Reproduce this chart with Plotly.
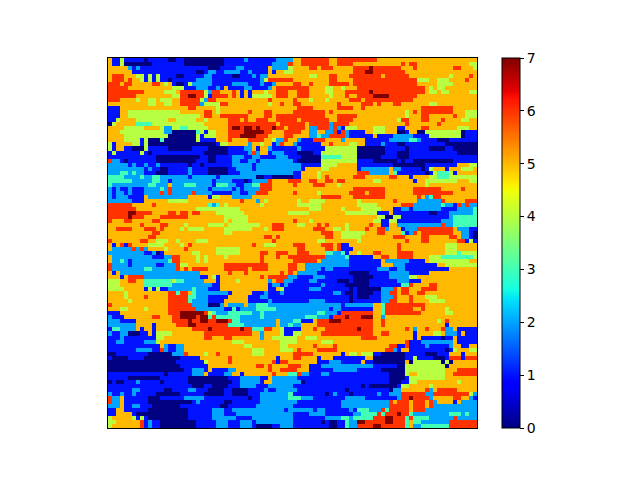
import numpy as np
import plotly.graph_objects as go

N = 92
# each token is value:column-where-the-run-ends
grid_rows = """
5:1 1:3 4:4 1:9 0:10 1:15 0:17 1:19 0:29 1:34 2:35 1:42 2:46 5:48 6:55 5:57 6:67 5:92
5:1 1:3 4:4 0:11 1:19 0:29 1:41 2:45 6:46 5:48 6:55 5:57 6:61 5:73 6:74 5:75 6:77 5:90 4:92
5:5 2:6 1:7 2:8 1:25 0:28 1:32 2:34 1:40 5:41 2:45 4:46 5:50 6:52 5:53 6:56 5:61 6:65 7:66 6:73 5:76 6:77 5:86 6:88 5:91 4:92
5:6 1:22 0:24 1:25 2:27 1:29 2:33 1:35 2:36 1:40 5:41 1:42 5:44 4:46 5:61 6:64 7:66 6:74 5:92
5:1 6:4 5:7 4:9 1:10 4:11 1:12 4:13 1:17 0:19 1:24 2:26 1:31 0:33 1:36 2:37 1:38 2:40 5:50 4:52 5:55 6:57 5:60 6:68 5:69 6:75 5:85 4:86 5:90 6:91 5:92
5:1 6:4 5:5 6:6 5:8 4:9 1:10 4:11 1:12 4:13 1:15 0:16 1:22 2:26 1:38 2:39 4:40 6:46 5:55 6:57 5:61 6:77 4:80 5:82 4:85 5:89 6:90 5:92
6:3 5:4 6:6 5:11 6:13 5:14 4:15 5:16 1:17 0:19 1:20 4:21 2:26 1:31 2:35 1:38 2:39 1:41 2:42 5:46 6:48 5:50 6:51 5:55 6:60 5:61 6:77 5:82 4:86 5:92
6:5 5:16 4:19 1:22 2:25 1:27 2:28 1:29 5:30 1:34 2:36 1:40 2:41 5:42 6:50 5:54 4:56 5:58 4:59 5:62 6:79 5:80 4:81 5:82 4:84 5:92
6:9 5:14 4:17 5:18 6:24 4:25 2:26 6:28 5:31 6:32 5:33 1:34 5:35 1:36 5:39 4:40 5:42 6:45 5:47 6:50 5:54 4:56 5:59 6:65 7:66 6:79 5:80 4:82 5:83 4:85 5:90 4:92
6:7 5:16 4:18 6:20 7:22 6:24 4:25 1:26 6:30 5:31 6:32 5:33 1:34 5:35 1:36 4:41 5:42 6:45 5:47 6:50 5:55 4:56 5:59 6:60 5:62 6:66 7:70 6:77 5:92
6:3 5:7 4:8 5:10 4:12 5:13 4:16 5:18 6:23 4:24 2:25 6:27 5:40 6:41 5:46 6:47 5:50 4:51 5:54 4:55 5:60 6:63 5:64 6:76 5:92
5:10 4:12 5:14 4:16 5:18 6:23 2:24 4:28 6:30 5:40 4:41 5:43 6:44 5:46 6:48 5:57 6:58 5:63 6:66 5:67 6:68 5:71 6:73 5:80 4:82 5:92
1:3 5:20 6:22 5:27 4:28 5:47 6:51 5:57 6:61 5:63 6:64 5:78 6:86 5:92
1:3 5:5 4:18 5:24 6:26 5:27 4:28 5:35 6:36 5:39 6:41 5:46 6:54 5:55 6:56 5:74 4:75 5:76 6:77 5:78 6:86 5:89 4:92
1:3 5:5 4:23 5:24 6:26 5:28 6:35 5:39 6:41 5:42 6:54 5:57 6:62 5:74 4:75 5:78 6:80 5:86 6:87 5:89 4:92
1:2 4:3 5:7 4:15 5:17 4:22 5:24 4:25 5:30 6:33 5:34 6:35 5:37 6:40 5:42 6:47 5:48 6:55 5:57 6:61 5:72 4:73 6:75 5:78 6:80 5:83 6:84 5:88 4:90 5:92
0:1 4:2 5:7 3:11 4:24 5:30 6:42 5:43 6:49 5:50 6:55 2:56 6:60 5:74 6:75 5:82 6:83 5:92
5:4 4:9 5:13 4:14 2:16 4:18 3:20 4:25 5:30 6:31 7:33 6:34 7:36 6:37 7:38 6:41 7:42 6:44 5:45 6:49 5:50 2:52 6:55 2:56 6:57 2:58 1:59 4:62 5:66 4:69 5:72 1:74 5:78 6:80 5:87 4:90 5:92
5:3 4:14 2:16 0:22 3:23 4:24 1:25 4:27 5:30 6:34 7:39 6:41 5:44 6:48 5:50 2:52 5:54 2:56 6:57 1:58 6:59 2:60 1:64 5:66 4:69 5:72 0:74 1:75 5:77 0:79 4:88 0:89 1:92
5:4 4:15 0:22 4:23 1:24 4:27 5:30 6:33 7:37 6:40 5:44 6:46 5:50 2:52 3:53 2:55 6:59 2:60 1:66 5:67 1:71 2:76 1:80 4:88 0:89 1:92
5:4 4:8 1:9 4:10 0:13 3:14 0:22 4:23 1:27 5:30 6:31 5:35 6:39 5:41 4:42 2:44 6:45 5:47 2:48 1:51 6:54 5:58 2:59 5:64 1:70 2:75 3:77 2:78 1:82 0:85 1:92
4:1 1:2 5:6 4:8 1:9 4:10 0:27 1:28 4:30 5:35 2:36 5:38 4:39 5:41 1:42 2:43 6:44 5:46 2:47 1:53 5:55 6:56 5:60 4:62 5:64 1:68 2:69 1:72 0:74 1:84 0:92
4:1 1:2 5:4 1:6 0:9 4:10 1:15 0:21 1:25 0:30 1:34 2:36 5:37 1:38 5:40 2:41 1:47 2:48 1:54 4:62 0:69 1:74 0:75 1:80 0:84 1:86 0:92
1:1 4:2 1:8 4:9 1:10 0:11 1:24 0:30 1:35 2:36 6:37 2:38 5:40 1:41 2:44 1:47 0:51 1:53 4:62 0:69 1:72 0:75 1:87 0:92
1:12 0:23 1:25 0:27 1:31 2:34 1:36 2:38 1:42 2:45 1:48 0:53 3:58 4:62 0:68 1:72 0:75 1:92
6:1 2:3 1:4 0:5 1:12 0:22 1:25 0:27 1:31 2:33 1:35 2:37 1:38 2:46 1:47 0:53 4:62 1:66 0:72 1:73 0:74 1:76 0:86 1:92
2:5 1:6 2:7 1:9 2:10 1:12 2:13 1:20 0:21 1:23 0:24 1:31 2:36 1:37 2:48 1:53 4:57 5:62 1:71 0:79 1:87 5:90 4:92
2:9 1:10 2:11 1:13 0:15 1:20 2:21 1:25 0:30 1:32 2:36 1:37 2:48 1:49 5:53 4:55 5:62 1:63 2:70 5:71 2:73 1:78 0:79 1:80 4:81 5:84 1:85 5:88 4:91 5:92
2:3 3:5 2:6 3:7 2:9 1:12 0:15 1:20 2:21 1:25 0:30 1:33 2:46 1:48 5:52 4:53 5:62 6:65 2:70 5:71 3:72 1:79 0:80 1:81 4:82 3:85 4:86 1:87 5:92
3:4 2:8 3:9 2:11 3:13 2:20 1:21 2:27 1:28 2:37 0:39 1:41 0:46 1:48 5:52 4:53 5:54 6:55 5:61 6:64 5:70 6:72 5:75 1:76 5:80 4:82 3:85 4:92
3:6 2:11 3:13 2:15 1:16 2:26 1:27 2:31 1:34 0:35 1:36 2:40 6:41 5:45 6:48 5:50 6:52 5:54 6:56 5:57 6:59 5:66 4:68 5:76 1:77 5:79 4:87 5:90 4:92
3:1 2:10 3:12 2:15 5:16 2:19 3:22 2:26 1:27 3:30 2:32 1:34 2:36 3:38 6:41 5:46 6:47 5:51 6:54 5:57 4:58 5:79 4:80 5:92
2:1 1:2 2:3 1:5 2:6 1:9 2:13 3:14 2:15 6:16 2:25 1:26 2:31 1:32 2:33 1:34 2:38 6:41 5:61 6:69 5:76 6:83 5:88 6:89 5:92
2:1 1:2 2:4 1:5 2:6 1:9 2:13 6:14 2:15 6:16 2:21 6:22 2:26 1:31 2:33 1:35 2:37 6:40 5:46 6:47 5:52 4:53 5:60 6:64 5:65 6:69 5:76 6:86 5:92
2:1 1:2 2:5 1:9 5:10 2:20 5:25 1:26 4:28 5:31 2:36 5:53 6:58 5:61 6:69 5:77 6:78 5:79 2:80 3:81 6:83 5:92
2:6 1:9 5:15 4:20 5:33 6:34 5:37 2:38 5:39 4:40 5:47 4:48 5:50 4:54 5:62 4:63 5:71 6:72 5:77 2:83 6:84 5:89 6:92
6:6 5:11 6:12 5:25 3:26 2:27 3:28 5:29 4:30 5:38 4:39 5:47 4:53 5:62 4:67 5:73 6:76 2:83 3:84 2:86 1:87 6:88 2:89 6:90 2:92
6:7 5:22 4:33 5:46 5:50 4:53 5:58 4:59 5:63 4:68 5:71 1:73 2:75 1:76 2:83 1:87 2:91 3:92
6:5 7:7 6:11 5:15 6:17 5:18 6:20 5:21 6:23 5:27 4:34 5:45 4:50 5:59 4:67 1:70 5:71 1:80 0:82 1:85 2:91 3:92
6:5 7:6 6:9 5:13 6:20 5:29 4:35 5:67 4:69 0:71 4:73 1:85 2:86 3:92
6:1 5:4 6:6 5:11 6:13 5:29 4:30 5:31 4:35 5:46 6:47 5:50 4:51 5:66 4:68 1:70 4:72 1:83 2:86 3:92
5:8 6:9 5:13 6:15 5:19 4:20 5:25 4:29 5:30 4:38 5:41 6:44 5:47 4:49 5:52 6:53 5:54 6:55 5:59 4:60 5:65 6:66 5:68 1:70 5:72 2:83 6:84 2:86 3:92
5:2 6:6 5:9 6:12 5:13 6:14 5:18 4:19 5:20 4:24 5:29 4:36 5:39 4:40 5:41 6:44 5:51 6:54 5:56 4:58 5:59 4:60 5:64 6:65 5:67 6:69 2:70 5:73 1:74 2:77 6:86 5:87 2:90 1:92
5:11 6:13 5:29 4:31 5:53 6:56 5:58 4:64 5:67 6:69 5:73 3:74 1:75 2:76 6:77 5:78 6:86 5:88 2:90 1:91 0:92
5:10 6:12 5:39 6:41 5:42 6:43 5:54 6:56 5:58 4:63 5:71 6:74 5:78 6:80 5:85 6:87 5:88 2:90 1:91 0:92
6:1 5:8 6:10 5:12 4:15 5:17 4:18 5:22 4:25 5:41 6:42 5:52 4:54 5:62 4:63 5:74 6:75 5:78 6:80 5:87 6:89 1:90 4:91 1:92
5:1 1:2 5:3 6:4 1:5 6:6 5:10 4:14 5:18 4:19 5:20 6:21 5:36 6:37 5:39 4:42 5:46 6:49 5:53 6:56 5:57 6:58 1:60 5:72 6:73 5:84 4:87 5:92
5:1 2:6 6:7 2:8 6:9 2:10 5:14 4:15 5:19 6:20 5:27 4:33 5:47 6:49 5:54 6:56 5:57 6:58 1:61 5:72 6:73 5:84 4:87 5:92
2:9 1:11 2:12 0:13 1:14 5:21 4:23 5:27 4:33 5:38 6:40 5:42 6:45 5:47 6:50 5:54 3:56 2:58 3:59 1:60 5:62 4:63 5:66 6:68 5:72 6:76 5:84 4:87 3:88 4:92
5:1 2:11 1:14 2:16 6:18 5:22 4:23 5:24 4:25 5:29 4:30 5:38 6:39 5:42 6:43 5:45 6:54 2:59 3:60 1:66 5:68 6:70 5:72 6:76 5:80 4:83 3:91 4:92
5:1 2:3 3:4 2:5 1:6 2:15 3:16 6:18 5:22 4:23 5:24 4:25 5:38 6:39 5:46 6:52 5:53 2:60 1:68 5:69 2:75 1:79 5:80 4:90 5:92
6:1 2:5 1:6 2:12 1:14 2:17 6:18 4:20 5:29 6:38 5:38 6:40 5:45 6:47 5:49 2:60 1:68 5:71 2:74 1:82 5:84 4:92
6:1 2:9 3:11 2:17 6:18 5:19 6:20 5:21 6:25 5:29 6:35 5:36 6:40 5:45 6:47 5:49 2:53 1:54 2:56 1:67 2:70 1:72 2:74 1:85 5:92
5:1 1:2 5:3 2:23 5:30 6:31 5:34 6:35 5:43 6:44 5:45 6:46 5:47 2:52 1:60 0:65 1:70 2:75 1:80 5:92
5:3 1:4 5:5 6:9 2:23 1:25 5:26 4:27 1:28 5:38 6:39 5:40 6:45 2:47 1:51 2:54 1:61 0:66 1:70 2:75 4:77 5:92
4:3 5:5 6:7 5:9 3:16 4:17 3:19 2:24 5:27 1:28 5:32 4:33 5:40 2:41 5:42 6:44 2:46 1:50 2:52 1:57 0:60 1:61 0:65 1:72 2:75 1:78 5:92
4:3 5:9 3:16 2:26 1:28 5:40 1:41 2:43 1:44 2:45 1:53 2:54 1:59 0:65 1:73 3:75 6:76 5:80 6:82 5:92
4:4 5:9 1:10 4:11 1:12 4:13 1:15 2:21 3:22 2:25 1:28 5:40 1:42 5:43 4:44 1:50 2:53 1:60 0:61 1:62 0:68 2:71 6:72 5:73 6:75 5:78 6:82 5:92
5:4 4:5 5:15 6:17 3:18 6:20 5:21 3:22 2:30 1:31 5:36 1:39 2:40 1:43 2:44 1:56 2:58 1:59 0:61 1:62 0:66 1:68 2:70 6:72 5:73 6:75 5:77 6:79 5:92
5:4 4:5 5:9 6:10 5:15 6:20 3:22 2:25 1:30 5:35 1:38 2:40 1:60 0:61 1:62 0:65 1:68 2:71 6:72 5:75 6:76 5:79 4:82 5:92
5:5 4:6 5:15 6:20 3:21 2:25 1:29 5:35 1:40 2:41 1:50 2:54 1:60 0:61 1:68 2:70 6:72 5:75 6:76 5:80 4:84 5:92
6:1 5:15 6:21 2:25 0:28 2:29 5:30 2:34 5:35 2:37 3:40 2:52 1:52 2:58 1:59 2:66 5:68 3:69 6:79 5:92
5:3 4:5 5:9 4:10 5:15 6:22 2:29 1:31 3:32 1:33 2:37 3:42 2:55 1:56 2:58 1:66 5:68 3:69 6:76 5:78 6:79 5:84 4:85 5:92
1:3 5:15 6:18 7:24 6:25 4:26 3:27 2:30 3:36 2:38 3:39 2:52 3:54 2:57 1:58 6:66 5:68 3:69 6:78 5:84 4:86 5:92
2:1 1:4 5:11 6:13 5:16 6:18 7:22 6:23 7:25 3:26 6:27 3:33 2:38 3:39 2:49 3:52 2:55 1:56 6:59 7:60 6:63 7:66 5:68 2:69 5:92
2:3 1:7 5:16 6:20 7:21 6:23 7:25 6:27 7:30 6:31 3:33 2:42 5:43 2:46 3:48 1:51 5:52 6:55 7:58 6:66 5:68 6:69 5:82 4:83 5:84 6:85 5:92
2:7 5:11 1:12 5:17 6:20 7:22 6:30 3:34 2:42 5:43 2:45 3:46 2:48 5:52 6:66 5:68 6:69 5:84 1:85 5:92
1:1 3:3 2:7 5:8 1:9 5:11 1:12 5:21 6:25 7:26 6:33 7:34 6:36 3:39 6:41 5:43 4:44 1:48 5:51 6:52 5:54 6:62 7:63 6:66 5:74 6:75 5:76 2:77 5:79 6:80 5:83 6:84 2:86 5:87 1:92
2:1 1:3 2:5 0:8 1:10 5:11 1:12 4:16 5:24 6:36 5:38 2:39 5:43 4:44 1:46 4:48 5:53 6:66 5:68 6:70 5:76 1:77 5:81 4:83 5:84 2:87 1:88 5:89 1:92
1:3 2:4 1:12 4:14 5:24 6:26 5:29 6:31 5:38 2:39 5:41 4:47 5:49 4:52 5:63 6:67 5:76 1:77 5:78 1:83 0:84 1:86 5:87 1:92
1:2 2:4 1:9 2:12 4:13 5:31 4:34 5:43 4:47 5:53 4:56 5:74 6:75 1:78 2:86 5:87 1:92
1:13 5:14 2:15 1:17 2:19 5:34 4:36 5:43 4:45 5:51 6:52 5:56 6:57 5:70 6:72 1:74 6:75 1:79 2:80 1:85 2:86 5:88 1:90 5:92
1:7 2:11 1:13 6:14 2:15 1:17 2:19 5:36 4:39 5:43 4:46 5:47 6:48 5:52 6:57 5:69 6:71 2:72 1:73 5:75 1:84 0:85 1:86 4:87 5:90 4:92
0:2 1:10 0:16 2:19 6:20 5:24 4:25 5:27 6:28 5:36 4:39 5:46 6:51 5:58 1:59 5:60 4:62 5:63 4:66 1:68 0:74 1:79 0:82 1:85 5:88 1:89 5:92
1:1 0:5 1:9 0:18 1:23 5:30 6:31 5:42 1:43 5:46 6:48 5:52 1:53 5:56 1:64 5:66 0:74 1:76 4:77 1:81 0:84 1:85 6:88 1:89 6:92
0:17 1:24 4:25 5:30 6:31 5:41 6:42 1:43 6:45 5:52 1:55 2:58 1:63 5:64 1:66 0:74 5:75 0:76 4:83 0:84 4:85 0:86 5:92
0:18 1:25 5:37 6:39 5:40 6:41 5:45 6:48 5:50 1:53 2:66 1:72 0:74 4:84 0:85 5:92
0:19 1:21 2:24 1:25 5:26 1:30 2:32 5:40 6:41 5:43 6:47 5:50 1:56 2:62 1:68 0:74 4:84 5:87 6:92
1:14 0:15 1:21 2:24 5:25 1:29 2:31 5:33 1:34 5:41 6:42 5:45 3:47 6:48 2:50 1:53 2:55 1:70 0:74 4:75 5:77 4:84 5:86 6:92
1:5 0:13 1:20 0:30 1:33 2:38 1:40 5:41 2:47 1:70 0:74 1:75 4:84 5:92
0:1 1:2 0:4 1:7 2:8 1:13 0:14 1:20 0:31 1:33 2:38 1:39 5:41 2:48 0:49 1:70 0:73 1:75 4:77 5:87 4:88 5:92
1:21 0:24 1:26 0:30 1:33 2:37 1:40 2:46 1:63 0:64 1:65 0:72 1:73 4:75 5:80 4:81 5:92
1:6 2:8 1:14 0:16 1:20 2:22 1:25 0:29 1:31 0:35 1:39 2:40 1:42 2:47 1:59 0:60 1:70 0:71 2:73 5:79 6:80 2:81 5:82 6:87 5:92
2:1 1:3 2:4 1:6 2:7 1:12 0:18 1:24 0:29 1:31 0:35 1:38 2:45 3:46 1:54 0:55 1:56 2:57 1:60 0:61 1:67 2:68 1:70 2:73 6:79 2:81 6:90 4:91 2:92
6:1 2:3 5:4 1:10 0:13 1:19 2:24 1:35 0:36 1:38 2:45 3:48 2:51 1:59 2:64 1:72 2:73 6:75 7:76 6:80 2:81 5:86 6:88 5:90 2:91 1:92
6:1 2:3 5:4 1:10 0:21 1:22 2:23 1:29 0:31 1:38 2:47 1:58 2:70 6:71 5:72 6:75 5:76 6:79 5:80 6:81 2:82 5:86 1:87 5:88 2:92
2:3 5:4 1:6 2:8 1:11 0:18 1:28 0:30 1:37 2:46 1:58 2:70 6:75 5:76 6:79 5:80 6:81 2:92
1:2 5:4 1:10 0:20 1:26 2:29 1:31 2:44 1:45 2:51 1:52 2:54 1:60 2:61 1:62 3:65 2:68 6:69 3:70 6:75 5:76 6:79 2:92
1:2 5:6 1:7 0:20 1:26 2:29 1:32 2:46 1:50 2:54 1:61 2:63 3:67 6:68 3:69 6:72 7:73 6:75 3:76 2:85 3:88 2:89 3:90 2:92
4:1 5:6 4:7 1:8 4:9 1:10 0:20 1:26 2:32 1:36 2:46 1:54 2:58 3:60 2:61 3:66 6:69 7:71 6:74 3:75 6:76 3:80 2:86 6:87 2:92
4:2 5:8 6:9 1:10 2:11 1:13 0:22 1:27 2:30 1:33 2:36 1:37 2:46 1:53 0:54 1:55 0:57 1:59 3:60 2:62 7:64 6:69 7:71 6:74 3:75 5:76 3:78 2:85 6:92
4:1 5:8 6:9 1:10 2:11 1:13 0:22 1:27 2:30 1:33 2:36 1:37 0:41 1:43 2:46 1:55 0:57 1:59 3:60 2:62 6:66 7:68 6:74 3:75 5:76 2:78 3:85 6:92
"""

def decode(line):
    row = [0] * N
    pos = 0
    for tok in line.split():
        v, end = tok.split(":")
        end = int(end)
        if end > pos:
            row[pos:end] = [int(v)] * (end - pos)
            pos = end
    return row

z = np.array([decode(l) for l in grid_rows.strip().splitlines()])
print(z.shape)

def jet(t):
    r = np.interp(t, [0, .35, .66, .89, 1], [0, 0, 1, 1, .5])
    g = np.interp(t, [0, .125, .375, .64, .91, 1], [0, 0, 1, 1, 0, 0])
    b = np.interp(t, [0, .11, .34, .65, 1], [.5, 1, 1, 0, 0])
    return f"rgb({r*255:.0f},{g*255:.0f},{b*255:.0f})"

stops = sorted({0, .11, .125, .34, .35, .375, .64, .65, .66, .89, .91, 1})
scale = [[t, jet(t)] for t in stops]

OFF = 8  # page body margin
fig = go.Figure(go.Heatmap(
    z=z, zmin=0, zmax=7, colorscale=scale,
    colorbar=dict(
        x=(502 - OFF) / 640, xanchor="left", xpad=0, thickness=18, thicknessmode="pixels",
        y=1 - (243 - OFF) / 480, yanchor="middle", ypad=0, len=370 / 480, lenmode="fraction",
        tickvals=list(range(8)), ticks="outside", ticklen=4, tickwidth=1, tickcolor="black",
        outlinecolor="black", outlinewidth=1,
        tickfont=dict(family="DejaVu Sans", size=14, color="black"),
    ),
))
fig.update_xaxes(domain=[(108 - OFF) / 640, (477 - OFF) / 640], showticklabels=False, ticks="", showgrid=False,
                 zeroline=False, showline=True, linecolor="black", linewidth=1, mirror=True,
                 range=[-0.5, N - 0.5])
fig.update_yaxes(domain=[1 - (428 - OFF) / 480, 1 - (58 - OFF) / 480], showticklabels=False, ticks="", showgrid=False,
                 zeroline=False, showline=True, linecolor="black", linewidth=1, mirror=True,
                 range=[z.shape[0] - 0.5, -0.5])
fig.update_layout(width=640, height=480, margin=dict(l=0, r=0, t=0, b=0),
                  paper_bgcolor="white", plot_bgcolor="white")
fig.write_html("out.html")
